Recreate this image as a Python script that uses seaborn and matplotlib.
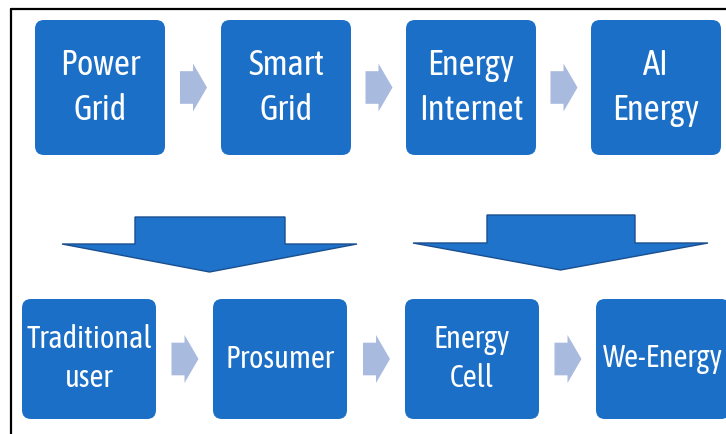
import numpy as np
import seaborn as sns
import matplotlib.pyplot as plt
from matplotlib.patches import FancyBboxPatch, Polygon

# labels of the two rows of boxes
top_labels = ["Power\nGrid", "Smart\nGrid", "Energy\nInternet", "AI\nEnergy"]
bottom_labels = ["Traditional\nuser", "Prosumer", "Energy\nCell", "We-Energy"]

sns.set_theme(style="white")
plt.rcParams['font.family'] = ['Asap Condensed', 'Roboto Condensed', 'DejaVu Sans']

box_blue = "#1c6fc6"
arrow_light = "#a9badf"
big_blue = "#1f73cb"

fig = plt.figure(figsize=(7.26, 4.34), dpi=100)
ax = fig.add_axes([0, 0, 1, 1])
ax.set_xlim(0, 726)
ax.set_ylim(434, 0)
ax.axis('off')

# frame (top and left edge visible)
ax.plot([11, 726], [9, 9], color="black", lw=1.6)
ax.plot([11, 11], [9, 434], color="black", lw=1.6)

# layout of the rows
top_x = [35, 221, 406, 591]
top_w, top_y, top_h = 130, 20, 135
bot_x = [22, 213, 405, 596]
bot_w, bot_y, bot_h = 134, 299, 120


def box(x, y, w, h, label, size, spacing):
    ax.add_patch(FancyBboxPatch((x, y), w, h, boxstyle="round,pad=0,rounding_size=9",
                                fc=box_blue, ec="none"))
    ax.text(x + w / 2, y + h / 2, label, color="white", fontsize=size,
            ha="center", va="center", linespacing=spacing)


def small_arrow(cx, cy, h):
    shaft_h = h * 0.68
    pts = [(cx - 13, cy - shaft_h / 2), (cx, cy - shaft_h / 2), (cx, cy - h / 2),
           (cx + 14, cy), (cx, cy + h / 2), (cx, cy + shaft_h / 2),
           (cx - 13, cy + shaft_h / 2)]
    ax.add_patch(Polygon(pts, closed=True, fc=arrow_light, ec="none"))


def big_arrow(sx0, sx1, top, wy, wx0, wx1, tip):
    tipx = (wx0 + wx1) / 2
    pts = [(sx0, top), (sx1, top), (sx1, wy), (wx1, wy), (tipx, tip),
           (wx0, wy), (sx0, wy)]
    ax.add_patch(Polygon(pts, closed=True, fc=big_blue, ec="#1a4f8f", lw=1.0))


for x, lab in zip(top_x, top_labels):
    box(x, top_y, top_w, top_h, lab, 25, 1.4)
for x, lab in zip(bot_x, bottom_labels):
    box(x, bot_y, bot_w, bot_h, lab, 22, 1.36)

for i in range(3):
    small_arrow((top_x[i] + top_w + top_x[i + 1]) / 2, top_y + top_h / 2, 48)
    small_arrow((bot_x[i] + bot_w + bot_x[i + 1]) / 2, bot_y + bot_h / 2, 48)

big_arrow(135, 285, 217, 244, 62, 357, 272)
big_arrow(487, 635, 215, 243, 413, 708, 270)

plt.savefig("out.png", dpi=100)
